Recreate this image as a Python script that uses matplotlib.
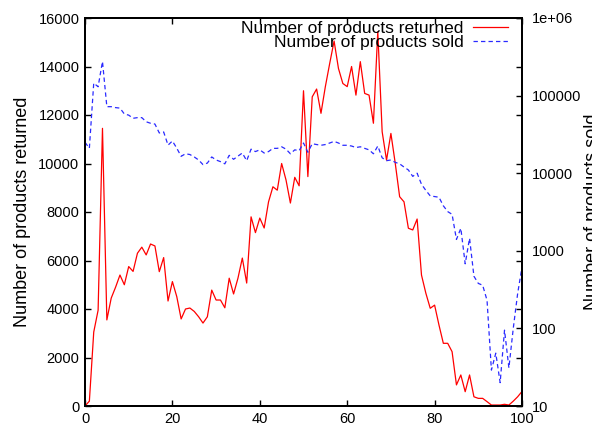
import numpy as np
import matplotlib
matplotlib.use("Agg")
import matplotlib.pyplot as plt
from matplotlib.ticker import FixedLocator, FixedFormatter, NullLocator

plt.rcParams["font.family"] = ["Liberation Sans", "DejaVu Sans"]

# percentile / bucket index on the x axis
x = np.arange(0, 101)

returned = [
    0, 200, 3050, 3950, 11450, 3550, 4450, 4900, 5400, 5000,
    5750, 5550, 6300, 6550, 6230, 6680, 6600, 5540, 6120, 4330,
    5130, 4510, 3590, 4000, 4040, 3900, 3680, 3420, 3680, 4780,
    4370, 4370, 4050, 5270, 4620, 5270, 6100, 5070, 7800, 7150,
    7750, 7340, 8420, 9040, 8900, 10000, 9320, 8370, 9430, 9080,
    13000, 9460, 12750, 13070, 12070, 13170, 14130, 15050, 13920, 13300,
    13170, 14000, 12820, 14200, 12890, 12820, 11660, 15440, 11310, 10140,
    11240, 10000, 8630, 8420, 7330, 7260, 7710, 5400, 4650, 4030,
    4160, 3340, 2585, 2585, 2240, 870, 1280, 590, 1280, 380,
    315, 315, 180, 40, 40, 40, 70, 40, 200, 380,
    600,
]

sold = [
    25000, 21000, 145000, 130000, 275000, 72000, 72000, 70000, 69000, 58000,
    56000, 51000, 52000, 52000, 46000, 44000, 43000, 33000, 34000, 23000,
    26000, 21000, 16500, 17800, 17400, 16200, 14800, 12900, 13500, 16200,
    14800, 14100, 13200, 17000, 15100, 16600, 18200, 14500, 20400, 19000,
    20000, 18200, 19000, 20900, 20900, 21900, 20400, 17800, 20000, 19500,
    24500, 18600, 24000, 23400, 22900, 23400, 24500, 25700, 24500, 22900,
    22900, 22400, 21400, 21900, 20900, 20000, 17800, 22400, 15800, 14500,
    14800, 13800, 13200, 12000, 11000, 9100, 10000, 7200, 6000, 5100,
    5000, 4900, 3800, 3200, 2950, 1400, 1950, 680, 1450, 470,
    380, 360, 230, 29, 48, 20, 95, 31, 100, 280,
    620,
]

left_ticks = [0, 2000, 4000, 6000, 8000, 10000, 12000, 14000, 16000]
right_ticks = [10, 100, 1000, 10000, 100000, 1000000]
right_labels = ["10", "100", "1000", "10000", "100000", "1e+06"]
x_ticks = [0, 20, 40, 60, 80, 100]

fig = plt.figure(figsize=(5.92, 4.24), dpi=100)
ax = fig.add_axes([85 / 592, 1 - 406 / 424, 437 / 592, 388 / 424])
ax2 = ax.twinx()

l1, = ax.plot(x, returned, color="#ff0000", lw=0.9,
              label="Number of products returned")
l2, = ax2.plot(x, sold, color="#2a2aff", lw=0.9, dashes=(3.5, 2.5),
               label="Number of products sold")

ax.set_xlim(0, 100)
ax.set_ylim(0, 16000)
ax.set_xticks(x_ticks)
ax.set_yticks(left_ticks)
ax.tick_params(direction="in", length=4.5, width=1.0, labelsize=10.5,
               top=True, right=True, pad=4, colors="black")
ax.tick_params(axis="x", pad=4)

ax2.set_yscale("log")
ax2.set_ylim(10, 1e6)
ax2.yaxis.set_major_locator(FixedLocator(right_ticks))
ax2.yaxis.set_major_formatter(FixedFormatter(right_labels))
ax2.yaxis.set_minor_locator(NullLocator())
ax2.tick_params(direction="in", length=4.5, width=1.0, labelsize=10.5, pad=7)

for a in (ax, ax2):
    for s in a.spines.values():
        s.set_linewidth(1.4)

ax.set_ylabel("Number of products returned", fontsize=13, labelpad=5)
ax2.set_ylabel("Number of products sold", fontsize=13, labelpad=2)

leg = ax2.legend(handles=[l1, l2], loc="upper right",
                 bbox_to_anchor=(508 / 592, 1 - 21 / 424),
                 bbox_transform=fig.transFigure, frameon=False,
                 markerfirst=False, fontsize=12.5, labelspacing=-0.08,
                 handlelength=2.0, handletextpad=0.55, borderpad=0,
                 borderaxespad=0)

fig.savefig("out.png", dpi=100)
